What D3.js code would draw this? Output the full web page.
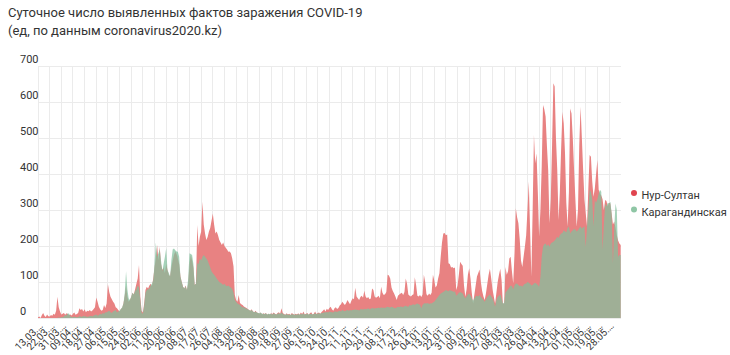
<!DOCTYPE html>
<html><head><meta charset="utf-8">
<script src="https://cdn.jsdelivr.net/npm/d3@7/dist/d3.min.js"></script>
<style>
body{margin:0;background:#fff;}
svg{font-family:Roboto,"Noto Sans",sans-serif;}
</style></head>
<body><svg id="c" width="730" height="355"></svg>
<script>
const titleLines = ["Суточное число выявленных фактов заражения COVID-19", "(ед, по данным coronavirus2020.kz)"];
const seriesNames = ["Нур-Султан", "Карагандинская"];
const tickLabels = ["13.03","22.03","31.03","09.04","18.04","27.04","06.05","15.05","24.05","02.06","11.06","20.06","29.06","08.07","17.07","26.07","04.08","13.08","22.08","31.08","09.09","18.09","27.09","06.10","15.10","24.10","02.11","11.11","20.11","29.11","08.12","17.12","26.12","04.01","13.01","22.01","31.01","09.02","18.02","27.02","08.03","17.03","26.03","04.04","13.04","22.04","01.05","10.05","19.05","28.05"];
const yTicks = [0,100,200,300,400,500,600,700];

const nurSultan = [
2,4,0,8,14,6,3,10,5,4,
8,6,12,9,20,59,30,18,10,12,
14,9,13,11,8,10,7,12,15,9,
11,14,27,22,25,18,24,16,20,19,
22,18,21,25,30,57,45,31,24,20,
22,36,28,40,94,72,59,52,45,40,
30,27,22,18,25,28,40,62,90,60,
45,50,58,70,65,80,95,110,147,60,
20,15,40,78,87,82,90,95,88,110,
140,165,203,160,198,150,133,140,125,150,
133,120,115,140,160,175,185,178,165,150,
115,100,87,82,90,78,95,150,175,160,
140,92,96,258,200,226,240,323,260,235,
217,225,240,250,270,290,260,235,240,230,
217,210,203,210,200,195,190,184,185,180,
165,143,64,50,45,64,42,38,36,32,
30,28,25,22,20,24,18,16,20,15,
14,12,15,10,13,11,14,9,12,10,
13,11,15,12,10,14,16,12,27,14,
11,9,13,10,12,8,14,11,9,12,
10,13,9,15,11,18,10,12,14,9,
13,16,10,12,18,11,14,15,12,17,
20,24,18,26,22,28,31,24,20,27,
30,25,28,35,38,45,40,36,42,50,
44,38,48,55,52,84,60,55,50,58,
62,56,76,60,55,58,52,54,82,78,
60,56,58,62,55,87,70,64,66,72,
120,118,110,85,75,68,60,50,62,65,
68,70,64,72,110,95,65,62,60,64,
66,113,92,62,60,64,58,65,120,100,
66,62,68,64,70,120,105,85,90,110,
124,170,210,235,236,230,232,152,150,140,
142,138,140,78,90,120,156,150,145,90,
59,80,120,138,110,70,40,65,90,115,
125,135,100,75,60,50,70,95,120,137,
110,80,60,40,70,100,120,137,105,40,
40,142,120,130,165,170,130,96,180,305,
280,263,220,160,142,170,198,230,300,379,
250,115,300,508,430,457,350,226,300,420,
592,580,560,480,411,263,330,480,652,643,
500,411,272,350,470,573,540,457,320,254,
350,582,568,500,411,330,254,300,480,587,
500,411,330,290,254,360,453,448,380,337,
360,400,439,356,345,340,330,300,328,325,
310,320,318,290,260,268,250,230,215,207,
203];

const karaganda = [
0,0,0,0,0,0,0,0,0,0,
0,0,0,0,0,0,2,0,3,2,
4,8,6,13,12,5,3,2,4,3,
2,3,5,4,3,6,4,5,3,4,
5,6,4,7,8,10,6,8,12,10,
14,12,16,15,18,20,16,14,18,20,
22,15,18,20,25,30,40,70,130,80,
55,50,60,70,65,75,80,90,85,50,
15,12,35,70,78,80,82,90,95,105,
150,210,170,180,190,160,130,150,170,194,
133,125,115,160,190,193,188,185,184,170,
115,100,87,82,88,78,110,180,178,175,
150,92,95,152,150,165,160,170,175,170,
165,160,150,140,130,124,120,115,110,105,
100,98,95,92,95,90,88,90,87,85,
80,70,50,45,40,38,36,32,30,30,
28,26,24,22,20,22,18,16,18,15,
14,13,15,12,12,11,13,10,12,11,
12,10,13,11,10,12,13,11,15,12,
10,9,11,9,10,8,11,10,9,10,
9,11,9,12,10,13,9,11,12,10,
11,12,10,11,13,11,12,13,12,14,
14,16,15,17,15,18,17,16,15,18,
18,17,19,20,18,22,20,19,21,22,
20,22,21,23,22,24,22,23,21,24,
25,23,26,24,25,27,24,26,28,27,
26,28,27,29,27,30,28,29,28,30,
31,30,29,31,30,28,27,29,31,30,
32,31,30,33,34,32,31,36,35,37,
38,36,39,40,38,37,27,36,40,41,
40,42,39,41,40,43,45,50,55,59,
64,68,70,72,75,78,76,74,78,76,
75,72,74,62,65,70,72,70,68,60,
55,60,65,68,62,55,48,55,60,62,
60,64,58,55,50,45,52,58,62,65,
60,55,45,31,50,58,62,65,55,40,
42,70,75,80,85,90,88,80,90,96,
95,92,88,90,87,92,95,96,100,98,
95,90,92,96,98,95,92,87,114,170,
198,205,207,200,205,198,207,210,212,215,
220,226,222,230,235,236,244,240,238,250,
254,235,240,244,248,245,240,244,250,254,
248,252,254,198,254,300,356,350,330,254,
328,320,330,345,356,351,189,260,318,310,
320,318,323,290,152,250,318,300,170,175,
175];

const colors = {red:"#e88282", green:"#82c09e", redDot:"#e0444f", greenDot:"#8fc6a5"};

const svg = d3.select("#c");
const plotLeft = 38, plotRight = 620.7, plotTop = 66, plotBottom = 318;
const x = d3.scaleLinear().domain([0, 450]).range([plotLeft, plotRight]);
const y = d3.scaleLinear().domain([0, 700]).range([plotBottom, plotTop]);

// title
svg.append("g").selectAll("text").data(titleLines).join("text")
  .attr("x", 8).attr("y", (d,i)=> 17 + i*17.5)
  .attr("font-size", 13).attr("fill", "#333").text(d=>d);

// gridlines
const grid = svg.append("g");
grid.selectAll("line.h").data(yTicks).join("line").attr("class","h")
  .attr("x1", plotLeft).attr("x2", plotRight).attr("y1", d=>y(d)).attr("y2", d=>y(d))
  .attr("stroke", "#ebebeb").attr("stroke-width", 1).attr("shape-rendering","crispEdges");
grid.selectAll("line.v").data(tickLabels).join("line").attr("class","v")
  .attr("x1", (d,i)=>x(i*9)).attr("x2", (d,i)=>x(i*9)).attr("y1", plotTop).attr("y2", plotBottom)
  .attr("stroke", "#ebebeb").attr("stroke-width", 1).attr("shape-rendering","crispEdges");

// y labels
svg.append("g").selectAll("text").data(yTicks).join("text")
  .attr("x", 20).attr("y", d=>y(d)-3).attr("font-size", 11).attr("fill", "#333")
  .text(d=>d);

// areas
const area = arr => d3.area().x((d,i)=>x(i)).y0(y(0)).y1(d=>y(d))(arr);
svg.append("path").attr("d", area(nurSultan)).attr("fill", colors.red);
svg.append("path").attr("d", area(karaganda)).attr("fill", colors.green).attr("fill-opacity", 0.72);

// x labels
svg.append("g").selectAll("text").data(tickLabels).join("text")
  .attr("transform", (d,i)=>`translate(${x(i*9)+3},${plotBottom+6}) rotate(-45)`)
  .attr("text-anchor","end").attr("dy","0.35em")
  .attr("font-size", 10).attr("fill", "#333")
  .text(d=> d + ".…");

// legend
const lg = svg.append("g");
[[seriesNames[0], colors.redDot],[seriesNames[1], colors.greenDot]].forEach((s,i)=>{
  lg.append("circle").attr("cx", 634).attr("cy", 193 + i*16.5).attr("r", 3).attr("fill", s[1]);
  lg.append("text").attr("x", 641.5).attr("y", 198.5 + i*17).attr("font-size", 11)
    .attr("fill", "#333").text(s[0]);
});
</script></body></html>
